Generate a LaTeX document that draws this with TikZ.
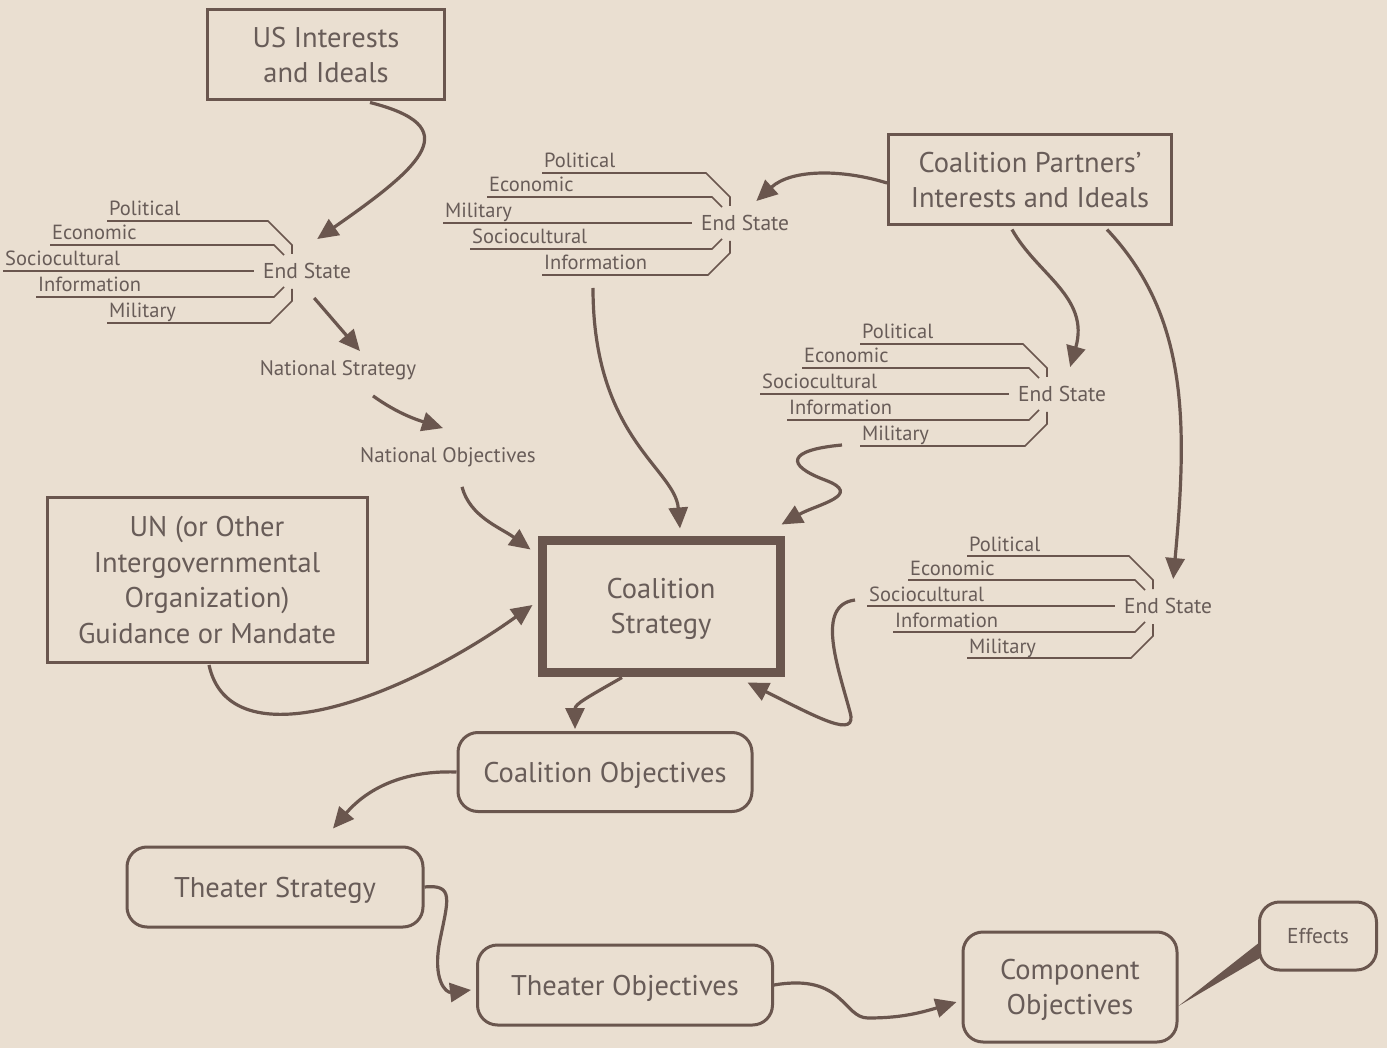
\documentclass[tikz,border=0pt]{standalone}
\usepackage{fontspec}
\setmainfont{PT Sans}
\usetikzlibrary{arrows.meta,calc}
\definecolor{bg}{RGB}{234,223,209}
\definecolor{ink}{RGB}{106,86,78}
\definecolor{txt}{RGB}{104,92,88}
\tikzset{
  conn/.style={draw=ink, line width=3.2pt, -{Triangle[length=21pt,width=19pt]}},
  fanline/.style={draw=ink, line width=1.6pt},
  lab/.style={text=txt, font=\fontsize{20.5}{24}\selectfont, inner sep=0pt, anchor=base west},
  es/.style={text=txt, font=\fontsize{21.5}{25}\selectfont, inner sep=0pt},
  plainlab/.style={text=txt, font=\fontsize{21}{24}\selectfont, inner sep=0pt},
  sqbox/.style={draw=ink, line width=3pt, text=txt, align=center, inner sep=0pt,
    text depth=0pt, font=\fontsize{28.5}{35.5}\selectfont},
  rbox/.style={sqbox, rounded corners=20pt},
}
\newcommand{\statefan}[4]{%
  \node[es,anchor=west] (#1) at (#2-29,#3) {End State};
  \foreach \s/\l [count=\i] in {#4}{%
    \ifcase\i\or
      \draw[fanline] (\s,#3-50) -- (#2-24,#3-50) -- (#2,#3-26) -- (#2,#3-17);
      \node[lab] (#1-\i) at (\s+2,#3-55) {\l};
    \or
      \draw[fanline] (\s,#3-26) -- (#2-18,#3-26) -- (#2-8,#3-16);
      \node[lab] (#1-\i) at (\s+2,#3-31) {\l};
    \or
      \draw[fanline] (\s,#3) -- (#2-38,#3);
      \node[lab] (#1-\i) at (\s+2,#3-5) {\l};
    \or
      \draw[fanline] (\s,#3+26) -- (#2-18,#3+26) -- (#2-8,#3+16);
      \node[lab] (#1-\i) at (\s+2,#3+21) {\l};
    \or
      \draw[fanline] (\s,#3+52) -- (#2-22,#3+52) -- (#2,#3+30) -- (#2,#3+18);
      \node[lab] (#1-\i) at (\s+2,#3+47) {\l};
    \fi
  }%
}
\begin{document}
\begin{tikzpicture}[x=1pt,y=-1pt]
\fill[bg] (0,0) rectangle (1387,1048);
\useasboundingbox (0,0) rectangle (1387,1048);

% boxes
\node[sqbox, minimum width=237pt, minimum height=90pt] (us) at (326,55) {US Interests\\and Ideals};
\node[sqbox, minimum width=283pt, minimum height=90pt] (cp) at (1030,180) {Coalition Partners'\\Interests and Ideals};
\node[sqbox, minimum width=320pt, minimum height=165pt] (un) at (207,580) {UN (or Other\\Intergovernmental\\Organization)\\Guidance or Mandate};
\node[sqbox, line width=9pt, minimum width=238pt, minimum height=132pt] (cs) at (661,606) {Coalition\\Strategy};
\node[rbox, minimum width=294pt, minimum height=79pt] (co) at (605,772) {Coalition Objectives};
\node[rbox, minimum width=296pt, minimum height=80pt] (ts) at (275,887) {Theater Strategy};
\node[rbox, minimum width=295pt, minimum height=80pt] (to) at (625,985) {Theater Objectives};
\node[rbox, minimum width=214pt, minimum height=110pt] (comp) at (1070,987) {Component\\Objectives};
\node[rbox, font=\fontsize{21.5}{25}\selectfont, minimum width=117pt, minimum height=68pt] (eff) at (1318,936) {Effects};
\fill[ink] ($(comp.east)+(0,19)$) -- ($(eff.west)+(2,6)$) -- ($(eff.west)+(2,22)$) -- cycle;

% end state fans
\statefan{esL}{292}{271}{107/Political,50/Economic,3/Sociocultural,36/Information,107/Military}
\statefan{esT}{730}{223}{542/Political,487/Economic,443/Military,470/Sociocultural,542/Information}
\statefan{esR}{1047}{394}{860/Political,802/Economic,760/Sociocultural,787/Information,860/Military}
\statefan{esB}{1153}{606}{967/Political,908/Economic,867/Sociocultural,893/Information,967/Military}

\node[plainlab] (ns) at (338,370) {National Strategy};
\node[plainlab] (no) at (448,457) {National Objectives};

% connectors
\draw[conn] ($(us.south)+(44,1)$) .. controls +(95,24) and +(108,-75) .. ($(esL.north)+(10,-24)$);
\draw[conn] ($(esL.south)+(7,19)$) -- ($(ns.north)+(22,-9)$);
\draw[conn] ($(ns.south)+(35,16)$) .. controls +(25,18) and +(-25,-8) .. ($(no.north)+(-5,-19)$);
\draw[conn] ($(no.south)+(14,20)$) .. controls +(8,30) and +(-30,-22) .. ($(cs.north west)+(-7,14)$);
\draw[conn] ($(un.south)+(2,1)$) .. controls +(21,97) and +(-133,95) .. ($(cs.west)+(-5,-1)$);
\draw[conn] ($(esT-5.base west)+(49,18)$) .. controls +(0,150) and +(-5,-60) .. ($(cs.north)+(19,-7)$);
\draw[conn] ($(esR-5.base west)+(-20,4)$) .. controls +(-55,5) and +(-40,-15) .. (825,480)
   .. controls +(40,15) and +(35,-20) .. ($(cs.north east)+(-3,-11)$);
\draw[conn] ($(cp.west)+(0,3)$) .. controls +(-45,-14) and +(35,-32) .. ($(esT.north east)+(-33,-14)$);
\draw[conn] ($(cp.south)+(-18,3)$) .. controls +(25,45) and +(20,-70) .. ($(esR.north)+(8,-19)$);
\draw[conn] ($(cp.south)+(77,3)$) .. controls +(80,85) and +(15,-160) .. ($(esB.north)+(5,-19)$);
\draw[conn] ($(esB-3.base west)+(-14,-1)$) .. controls +(-40,5) and +(-12,-45) .. (850,712)
   .. controls +(8,28) and +(70,35) .. ($(cs.south east)+(-37,6)$);
\draw[conn] ($(cs.south)+(-39,1)$) .. controls +(-35,20) and +(0,-25) .. ($(co.north)+(-30,-2)$);
\draw[conn] (co.west) .. controls +(-60,-2) and +(30,-35) .. ($(ts.north)+(58,-17)$);
\draw[conn] (ts.east) .. controls +(30,-3) and +(8,-40) .. (440,940)
   .. controls +(-8,40) and +(-25,3) .. ($(to.west)+(-5,5)$);
\draw[conn] (to.east) .. controls +(70,-12) and +(-25,0) .. (868,1018)
   .. controls +(30,0) and +(-40,12) .. ($(comp.west)+(-5,15)$);
\end{tikzpicture}
\end{document}
